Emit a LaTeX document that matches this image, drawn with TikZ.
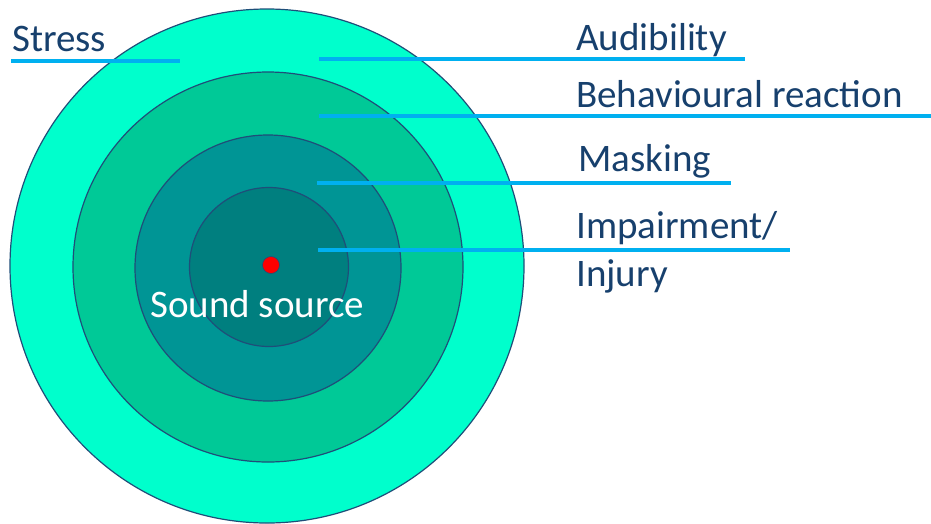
\documentclass[tikz,border=0pt]{standalone}
\usepackage{fontspec}
\setmainfont{Carlito}
\usepackage{xcolor}
\usetikzlibrary{positioning}

\definecolor{ringout}{HTML}{00FFCC}
\definecolor{ringtwo}{HTML}{00C997}
\definecolor{ringthree}{HTML}{009595}
\definecolor{ringin}{HTML}{007F7F}
\definecolor{ringedge}{HTML}{1F4E79}
\definecolor{leadblue}{HTML}{00B0F0}
\definecolor{lbltext}{HTML}{17406D}

\begin{document}
\begin{tikzpicture}[x=1pt,y=-1pt,
    ring/.style={circle, draw=ringedge, line width=1.2pt, inner sep=0pt},
    lead/.style={draw=leadblue, line width=3.5pt},
    lbl/.style={text=lbltext, font=\fontsize{39}{48}\selectfont, inner sep=0pt, anchor=base west}]
      \useasboundingbox (0,0) rectangle (931,523);

      % zones round the source
      \node[ring, fill=ringout, minimum size=514pt] (Z1) at (267,266) {};
      \node[ring, fill=ringtwo, minimum size=390pt] (Z2) at (268,267) {};
      \node[ring, fill=ringthree, minimum size=266pt] (Z3) at (268,268) {};
      \node[ring, fill=ringin, minimum size=159pt] (Z4) at (269,267) {};
      \node[circle, fill=red, draw=ringedge, line width=.6pt, minimum size=17pt, inner sep=0pt] (S) at (271,265) {};
      \node[lbl, text=white] (SL) at (150,317) {Sound source};

      % labels
      \node[lbl] (L0) at (12,51) {Stress};
      \node[lbl] (L1) at (576,50) {Audibility};
      \node[lbl] (L2) at (576,107) {Behavioural reaction};
      \node[lbl] (L3) at (578,171) {Masking};
      \node[lbl, align=left, anchor=north west] (L4) at (576,211) {Impairment/\\Injury};

      % leader lines
      \coordinate (c0a) at (11,61);   \coordinate (c0b) at (180,61);
      \coordinate (c1a) at (319,59);  \coordinate (c1b) at (745,59);
      \coordinate (c2a) at (319,116); \coordinate (c2b) at (931,116);
      \coordinate (c3a) at (317,183); \coordinate (c3b) at (731,183);
      \coordinate (c4a) at (318,250); \coordinate (c4b) at (790,250);
      \draw[lead] (c0a) -- (c0b);
      \draw[lead] (c1a) -- (c1b);
      \draw[lead] (c2a) -- (c2b);
      \draw[lead] (c3a) -- (c3b);
      \draw[lead] (c4a) -- (c4b);
\end{tikzpicture}
\end{document}
